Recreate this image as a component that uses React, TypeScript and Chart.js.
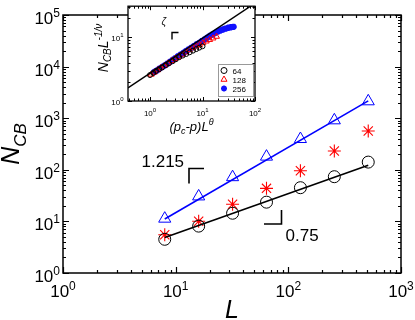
import React, { useEffect, useRef } from "react";
import { Chart, registerables } from "chart.js";

Chart.register(...registerables);

const FONT = '"Liberation Sans", Arial, Helvetica, sans-serif';

// ---------- main chart data ----------
const L_VALUES = [8, 16, 32, 64, 128, 256, 512];
const NCB_CIRCLES = [4.5, 8.1, 14.4, 23.6, 45, 73.5, 141];
const NCB_STARS = [5.5, 10.1, 21.5, 43.7, 96, 231, 565];
const NCB_TRIANGLES = [11.3, 30.5, 72, 180, 395, 910, 2125];
const FIT_L = [8, 512];
const FIT_CIRCLES = [4.9, 122];
const FIT_TRIANGLES = [11.1, 2170];
const MAIN_X_EXPONENTS = [0, 1, 2, 3];
const MAIN_Y_EXPONENTS = [0, 1, 2, 3, 4, 5];

// ---------- inset data ----------
const INSET_LABELS = ["64", "128", "256"];
const INSET_X_64 = [1.0, 1.15, 1.3, 1.5, 1.7, 2.0, 2.3, 2.7, 3.1, 3.6, 4.2, 4.9, 5.7, 6.6, 7.6, 8.7, 10.0];
const INSET_Y_64 = [2.55, 2.75, 2.95, 3.15, 3.35, 3.65, 3.9, 4.2, 4.5, 4.85, 5.15, 5.45, 5.8, 6.15, 6.5, 6.85, 7.2];
const INSET_X_128 = [1.05, 1.2, 1.4, 1.6, 1.9, 2.2, 2.6, 3.0, 3.5, 4.1, 4.8, 5.6, 6.5, 7.6, 8.8, 10.2, 11.8, 13.7, 15.9, 18.5];
const INSET_Y_128 = [2.6, 2.8, 3.05, 3.3, 3.6, 3.9, 4.25, 4.6, 4.95, 5.35, 5.8, 6.3, 6.75, 7.2, 7.6, 8.1, 8.6, 9.1, 9.6, 10.2];
const INSET_X_256 = [1.2, 1.35, 1.5, 1.7, 1.9, 2.15, 2.4, 2.7, 3.0, 3.4, 3.8, 4.3, 4.8, 5.4, 6.1, 6.8, 7.7, 8.6, 9.7, 10.9, 12.2, 13.7, 15.4, 17.3, 19.4, 21.8, 24.5, 27.5, 30.9, 34.7, 39];
const INSET_Y_256 = [2.85, 3.0, 3.2, 3.4, 3.6, 3.85, 4.1, 4.4, 4.65, 5.0, 5.3, 5.65, 6.0, 6.4, 6.8, 7.2, 7.7, 8.1, 8.65, 9.2, 9.8, 10.4, 11.0, 11.6, 12.2, 12.7, 13.2, 13.6, 14.0, 14.3, 14.5];
const INSET_FIT_X = [0.381, 100];
const INSET_FIT_Y = [1.6, 34];
const INSET_X_EXPONENTS = [0, 1, 2];
const INSET_Y_EXPONENTS = [0, 1];

const pts = (xs: number[], ys: number[]) => xs.map((x, i) => ({ x, y: ys[i] }));

function powLabel(
  ctx: CanvasRenderingContext2D,
  exp: number,
  x: number,
  y: number,
  align: "center" | "right",
  baseSize: number,
  supSize: number,
  rise: number
) {
  const baseFont = `${baseSize}px ${FONT}`;
  const supFont = `${supSize}px ${FONT}`;
  ctx.font = baseFont;
  const w1 = ctx.measureText("10").width;
  ctx.font = supFont;
  const w2 = ctx.measureText(String(exp)).width;
  const total = w1 + w2;
  const x0 = align === "center" ? x - total / 2 : x - total;
  ctx.textAlign = "left";
  ctx.textBaseline = "alphabetic";
  ctx.fillStyle = "#000";
  ctx.font = baseFont;
  ctx.fillText("10", x0, y);
  ctx.font = supFont;
  ctx.fillText(String(exp), x0 + w1, y - rise);
}

function drawMarker(ctx: CanvasRenderingContext2D, style: string, x: number, y: number, r: number) {
  ctx.beginPath();
  if (style === "circle") {
    ctx.arc(x, y, r, 0, Math.PI * 2);
    ctx.stroke();
  } else if (style === "triangle") {
    for (let i = 0; i < 3; i++) {
      const ang = (i * 2 * Math.PI) / 3;
      const px = x + Math.sin(ang) * r;
      const py = y - Math.cos(ang) * r;
      if (i === 0) ctx.moveTo(px, py);
      else ctx.lineTo(px, py);
    }
    ctx.closePath();
    ctx.stroke();
  } else {
    for (let i = 0; i < 4; i++) {
      const ang = (i * Math.PI) / 4;
      ctx.moveTo(x - Math.cos(ang) * r, y - Math.sin(ang) * r);
      ctx.lineTo(x + Math.cos(ang) * r, y + Math.sin(ang) * r);
    }
    ctx.stroke();
  }
}

function drawFrameAndTicks(chart: any, lw: number, major: number, minor: number) {
  const { ctx, chartArea: a, scales } = chart;
  const xs = scales.x;
  const ys = scales.y;
  ctx.save();
  ctx.strokeStyle = "#000";
  ctx.lineWidth = lw;
  ctx.beginPath();
  const e0x = Math.floor(Math.log10(xs.min));
  const e1x = Math.ceil(Math.log10(xs.max));
  for (let e = e0x; e <= e1x; e++) {
    for (let k = 1; k < 10; k++) {
      const v = k * Math.pow(10, e);
      if (v < xs.min * 0.999 || v > xs.max * 1.001) continue;
      const px = Math.round(xs.getPixelForValue(v)) + 0.5;
      const len = k === 1 ? major : minor;
      ctx.moveTo(px, a.bottom);
      ctx.lineTo(px, a.bottom - len);
      ctx.moveTo(px, a.top);
      ctx.lineTo(px, a.top + len);
    }
  }
  const e0y = Math.floor(Math.log10(ys.min));
  const e1y = Math.ceil(Math.log10(ys.max));
  for (let e = e0y; e <= e1y; e++) {
    for (let k = 1; k < 10; k++) {
      const v = k * Math.pow(10, e);
      if (v < ys.min * 0.999 || v > ys.max * 1.001) continue;
      const py = Math.round(ys.getPixelForValue(v)) + 0.5;
      const len = k === 1 ? major : minor;
      ctx.moveTo(a.left, py);
      ctx.lineTo(a.left + len, py);
      ctx.moveTo(a.right, py);
      ctx.lineTo(a.right - len, py);
    }
  }
  ctx.stroke();
  ctx.lineWidth = lw + 0.3;
  ctx.strokeRect(a.left, a.top, a.right - a.left, a.bottom - a.top);
  ctx.restore();
}

const mainDecor = {
  id: "mainDecor",
  afterDraw(chart: any) {
    const { ctx, chartArea: a, scales } = chart;
    drawFrameAndTicks(chart, 1.2, 6, 3);
    ctx.save();
    MAIN_X_EXPONENTS.forEach((e) => {
      powLabel(ctx, e, scales.x.getPixelForValue(Math.pow(10, e)), a.bottom + 24, "center", 17, 12, 7);
    });
    MAIN_Y_EXPONENTS.forEach((e) => {
      powLabel(ctx, e, a.left - 3, scales.y.getPixelForValue(Math.pow(10, e)) + 9, "right", 17, 12, 7);
    });
    // x title
    ctx.fillStyle = "#000";
    ctx.font = `italic 25px ${FONT}`;
    ctx.textAlign = "center";
    ctx.textBaseline = "alphabetic";
    ctx.fillText("L", (a.left + a.right) / 2, 318);
    // y title
    ctx.save();
    ctx.translate(18.5, 144);
    ctx.rotate(-Math.PI / 2);
    const f1 = `italic 25px ${FONT}`;
    const f2 = `italic 17px ${FONT}`;
    ctx.font = f1;
    const wN = ctx.measureText("N").width;
    ctx.font = f2;
    const wCB = ctx.measureText("CB").width;
    const x0 = -(wN + wCB) / 2;
    ctx.textAlign = "left";
    ctx.font = f1;
    ctx.fillText("N", x0, 0);
    ctx.font = f2;
    ctx.fillText("CB", x0 + wN, 7);
    ctx.restore();
    // slope annotations
    ctx.font = `17px ${FONT}`;
    ctx.textAlign = "left";
    ctx.fillText("1.215", 141.5, 167);
    ctx.fillText("0.75", 285.5, 241);
    ctx.strokeStyle = "#000";
    ctx.lineWidth = 1.6;
    ctx.beginPath();
    ctx.moveTo(189, 183.5);
    ctx.lineTo(189, 168.5);
    ctx.lineTo(204, 168.5);
    ctx.moveTo(264, 224);
    ctx.lineTo(281.5, 224);
    ctx.lineTo(281.5, 210);
    ctx.stroke();
    ctx.restore();
  },
};

const insetDecor = {
  id: "insetDecor",
  beforeDatasetsDraw(chart: any) {
    const { ctx, chartArea: a } = chart;
    ctx.save();
    ctx.fillStyle = "#fff";
    ctx.fillRect(a.left, a.top, a.right - a.left, a.bottom - a.top);
    ctx.restore();
  },
  afterDraw(chart: any) {
    const { ctx, chartArea: a, scales } = chart;
    drawFrameAndTicks(chart, 1, 4, 2.5);
    ctx.save();
    INSET_X_EXPONENTS.forEach((e) => {
      powLabel(ctx, e, scales.x.getPixelForValue(Math.pow(10, e)), a.bottom + 15, "center", 8, 6, 4);
    });
    INSET_Y_EXPONENTS.forEach((e) => {
      powLabel(ctx, e, a.left - 4.5, scales.y.getPixelForValue(Math.pow(10, e)) + 3.5, "right", 8, 6, 4);
    });
    const big = `italic 14px ${FONT}`;
    const small = `italic 10px ${FONT}`;
    const drawParts = (pp: [string, string, number][], cx: number) => {
      let total = 0;
      pp.forEach(([t, f]) => {
        ctx.font = f;
        total += ctx.measureText(t).width;
      });
      let x = cx - total / 2;
      pp.forEach(([t, f, dy]) => {
        ctx.font = f;
        ctx.fillText(t, x, dy);
        x += ctx.measureText(t).width;
      });
    };
    ctx.fillStyle = "#000";
    ctx.textAlign = "left";
    ctx.textBaseline = "alphabetic";
    // x title: (p_c-p)L^θ
    ctx.save();
    ctx.translate(0, 131);
    drawParts(
      [
        ["(p", `italic 13px ${FONT}`, 0],
        ["c", `italic 9px ${FONT}`, 3],
        ["-p)L", `italic 13px ${FONT}`, 0],
        ["θ", `italic 9px ${FONT}`, -6],
      ],
      (a.left + a.right) / 2
    );
    ctx.restore();
    // y title: N_CB L^{-1/ν}
    ctx.save();
    ctx.translate(108, 48);
    ctx.rotate(-Math.PI / 2);
    drawParts(
      [
        ["N", big, 0],
        ["CB", small, 3],
        ["L", big, 0],
        ["-1/ν", small, -6],
      ],
      0
    );
    ctx.restore();
    // zeta annotation
    ctx.font = `italic 10px ${FONT}`;
    ctx.fillText("ζ", 161.5, 25);
    ctx.strokeStyle = "#000";
    ctx.lineWidth = 1.4;
    ctx.beginPath();
    ctx.moveTo(172, 39.5);
    ctx.lineTo(172, 32.5);
    ctx.lineTo(178.5, 32.5);
    ctx.stroke();
    // legend
    const lx = 218.5, ly = 64.5, lw = 35, lh = 32;
    ctx.fillStyle = "#fff";
    ctx.fillRect(lx, ly, lw, lh);
    ctx.strokeStyle = "#999";
    ctx.lineWidth = 1;
    ctx.strokeRect(lx, ly, lw, lh);
    const ds = chart.data.datasets;
    const rows = [70.5, 79.5, 88.5];
    INSET_LABELS.forEach((lab, i) => {
      const d = ds[i + 1];
      ctx.save();
      ctx.strokeStyle = d.borderColor;
      ctx.lineWidth = d.pointStyle === "star" ? 1.8 : 1;
      drawMarker(ctx, d.pointStyle, 224, rows[i], d.pointStyle === "triangle" ? 3.5 : 3);
      ctx.restore();
      ctx.fillStyle = "#000";
      ctx.font = `8px ${FONT}`;
      ctx.textAlign = "left";
      ctx.fillText(lab, 232.5, rows[i] + 3);
    });
    ctx.restore();
  },
};

export default function App() {
  const mainRef = useRef<HTMLCanvasElement>(null);
  const insetRef = useRef<HTMLCanvasElement>(null);

  useEffect(() => {
    document.body.style.margin = "0";
    const main = new Chart(mainRef.current as HTMLCanvasElement, {
      type: "scatter",
      data: {
        datasets: [
          {
            label: "fit circles",
            data: pts(FIT_L, FIT_CIRCLES),
            showLine: true,
            borderColor: "#000",
            borderWidth: 1.6,
            pointRadius: 0,
          },
          {
            label: "fit triangles",
            data: pts(FIT_L, FIT_TRIANGLES),
            showLine: true,
            borderColor: "#0000ff",
            borderWidth: 1.6,
            pointRadius: 0,
          },
          {
            label: "circles",
            data: pts(L_VALUES, NCB_CIRCLES),
            pointStyle: "circle",
            pointRadius: 6,
            borderColor: "#000",
            backgroundColor: "rgba(0,0,0,0)",
            borderWidth: 1,
          },
          {
            label: "stars",
            data: pts(L_VALUES, NCB_STARS),
            pointStyle: "star",
            pointRadius: 6.5,
            borderColor: "#ff0000",
            backgroundColor: "rgba(0,0,0,0)",
            borderWidth: 1.1,
          },
          {
            label: "triangles",
            data: pts(L_VALUES, NCB_TRIANGLES),
            pointStyle: "triangle",
            pointRadius: 7,
            borderColor: "#0000ff",
            backgroundColor: "rgba(0,0,0,0)",
            borderWidth: 1,
          },
        ],
      },
      options: {
        responsive: false,
        animation: false,
        events: [],
        layout: { padding: { left: 63, top: 15, right: 14, bottom: 47 } },
        scales: {
          x: { type: "logarithmic", min: 1, max: 1000, display: false },
          y: { type: "logarithmic", min: 1, max: 100000, display: false },
        },
        plugins: { legend: { display: false }, tooltip: { enabled: false } },
      },
      plugins: [mainDecor],
    } as any);

    const inset = new Chart(insetRef.current as HTMLCanvasElement, {
      type: "scatter",
      data: {
        datasets: [
          {
            label: "fit",
            data: pts(INSET_FIT_X, INSET_FIT_Y),
            showLine: true,
            borderColor: "#000",
            borderWidth: 1.4,
            pointRadius: 0,
            order: 0,
          },
          {
            label: INSET_LABELS[0],
            data: pts(INSET_X_64, INSET_Y_64),
            pointStyle: "circle",
            pointRadius: 2.5,
            borderColor: "#000",
            backgroundColor: "rgba(0,0,0,0)",
            borderWidth: 1,
            order: 1,
          },
          {
            label: INSET_LABELS[1],
            data: pts(INSET_X_128, INSET_Y_128),
            pointStyle: "triangle",
            pointRadius: 3.4,
            borderColor: "#ff0000",
            backgroundColor: "rgba(0,0,0,0)",
            borderWidth: 1,
            order: 2,
          },
          {
            label: INSET_LABELS[2],
            data: pts(INSET_X_256, INSET_Y_256),
            pointStyle: "star",
            pointRadius: 3.2,
            borderColor: "#1010ff",
            backgroundColor: "#1010ff",
            borderWidth: 2.2,
            order: 3,
          },
        ],
      },
      options: {
        responsive: false,
        animation: false,
        events: [],
        layout: { padding: { left: 128, top: 2, right: 160, bottom: 219 } },
        scales: {
          x: { type: "logarithmic", min: 0.381, max: 100, display: false },
          y: { type: "logarithmic", min: 1, max: 30.5, display: false },
        },
        plugins: { legend: { display: false }, tooltip: { enabled: false } },
      },
      plugins: [insetDecor],
    } as any);

    return () => {
      main.destroy();
      inset.destroy();
    };
  }, []);

  return (
    <div style={{ position: "relative", width: 415, height: 320, background: "#fff" }}>
      <canvas ref={mainRef} width={415} height={320} style={{ position: "absolute", left: 0, top: 0 }} />
      <canvas ref={insetRef} width={415} height={320} style={{ position: "absolute", left: 0, top: 0 }} />
    </div>
  );
}
